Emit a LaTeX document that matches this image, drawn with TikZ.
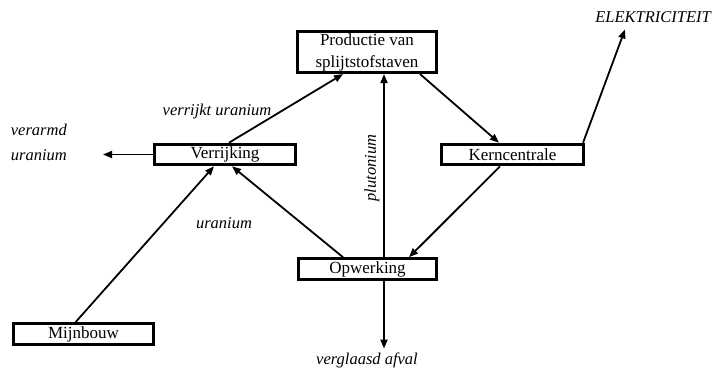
\documentclass[tikz,border=0pt]{standalone}
\usepackage{fontspec}
\setmainfont{Liberation Serif}
\usetikzlibrary{arrows.meta}

\begin{document}
\begin{tikzpicture}[x=1pt, y=-1pt,
  box/.style={draw, line width=3.1pt, inner sep=0pt, align=center,
              minimum width=#1, minimum height=20.5pt,
              font=\fontsize{17}{22}\selectfont},
  box/.default=140pt,
  lbl/.style={inner sep=0pt, font=\fontsize{16.5}{25}\selectfont\itshape},
  >={Triangle[length=9pt,width=7pt]}, line width=1.8pt]
\useasboundingbox (0,0) rectangle (714,368);
% the five steps
\node[box=139pt, minimum height=41pt] (prod) at (367,52) {Productie van\\splijtstofstaven};
\node[box=141pt] (verr) at (225,154.5) {Verrijking};
\node[box=142pt] (kern) at (512.5,154.5) {Kerncentrale};
\node[box=138pt] (opw) at (367.5,269) {Opwerking};
\node[box=140pt] (mijn) at (83.5,334) {Mijnbouw};
% labels
\node[lbl, align=left, anchor=west] (verarmd) at (10,142) {verarmd\\uranium};
\node[lbl] (verrijkt) at (217,112) {verrijkt uranium};
\node[lbl] (uranium) at (224,223) {uranium};
\node[lbl, rotate=90] (plutonium) at (372,168) {plutonium};
\node[lbl] (afval) at (367,360) {verglaasd afval};
\node[lbl] (elek) at (653,17) {ELEKTRICITEIT};
\coordinate (verarmdpunt) at (103,154.5);
% flows
\draw[->] ([xshift=-8pt]mijn.north) -- ([xshift=-11pt]verr.south);
\draw[->] ([xshift=-24.5pt]opw.north) -- ([xshift=7pt]verr.south);
\draw[->] ([xshift=4pt]verr.north) -- ([xshift=-24pt]prod.south);
\draw[->] ([xshift=16.5pt]opw.north) -- ([xshift=16.5pt]opw.north |- prod.south);
\draw[->] ([xshift=53pt]prod.south) -- ([xshift=-13.5pt]kern.north);
\draw[->] ([xshift=-12.5pt]kern.south) -- ([xshift=41.5pt]opw.north);
\draw[->] ([xshift=-2pt]kern.north east) -- ([xshift=-28pt,yshift=-6pt]elek.south);
\draw[->] (verr.west) -- (verarmdpunt);
\draw[->] ([xshift=16.5pt]opw.south) -- ([xshift=16.5pt,yshift=3pt]opw.south |- afval.north);
\end{tikzpicture}
\end{document}
